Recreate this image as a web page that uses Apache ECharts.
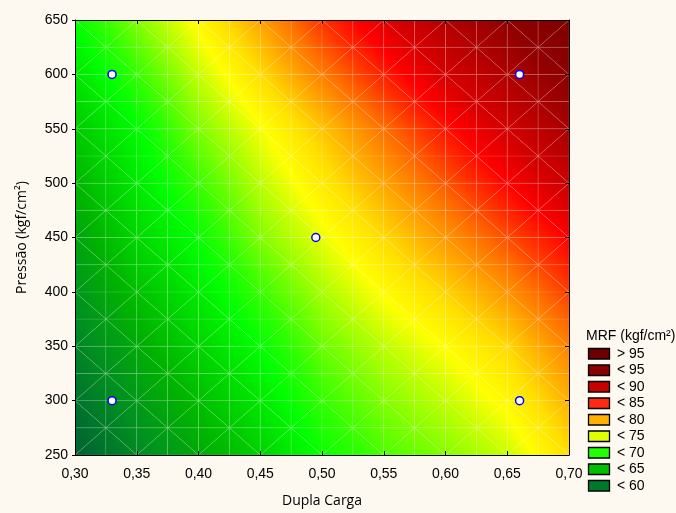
<!DOCTYPE html>
<html>
<head>
<meta charset="utf-8">
<script src="https://cdn.jsdelivr.net/npm/echarts@6/dist/echarts.min.js"></script>
<style>
html,body{margin:0;padding:0;background:#fdf9f0;}
#c{width:676px;height:513px;}
</style>
</head>
<body>
<div id="c"></div>
<script>
// ---- data ----
const xNodes = [0.30, 0.35, 0.40, 0.45, 0.50, 0.55, 0.60, 0.65, 0.70];
const yNodes = [250, 350, 450, 550, 650];
const mrf250 = [56.2, 59.4, 62.1, 65.0, 68.4, 70.5, 72.0, 73.7, 76.8];
const mrf350 = [59.0, 62.2, 65.2, 68.1, 71.3, 73.4, 75.1, 77.1, 80.2];
const mrf450 = [61.6, 65.4, 68.3, 71.9, 74.5, 77.0, 79.4, 81.9, 84.6];
const mrf550 = [64.4, 67.8, 71.8, 74.8, 77.8, 80.8, 83.8, 87.0, 90.6];
const mrf650 = [68.2, 71.9, 75.4, 79.0, 82.8, 86.0, 89.6, 93.1, 96.6];
const mrfGrid = [mrf250, mrf350, mrf450, mrf550, mrf650];

const designX = [0.33, 0.33, 0.495, 0.66, 0.66];
const designY = [300, 600, 450, 300, 600];

const xTicks = [0.30, 0.35, 0.40, 0.45, 0.50, 0.55, 0.60, 0.65, 0.70];
const yTicks = [250, 300, 350, 400, 450, 500, 550, 600, 650];

const legendTitle = 'MRF (kgf/cm²)';
const legendLabels = ['> 95', '< 95', '< 90', '< 85', '< 80', '< 75', '< 70', '< 65', '< 60'];
const legendColors = ['#6c0000', '#8b0000', '#c80000', '#ff2a12', '#ffb000', '#e0ff00', '#22ff00', '#00c000', '#007a2a'];

// continuous colour scale of the surface
const scaleValues = [54, 57, 60, 63, 66, 68, 69.8, 71.5, 73.5, 75, 76.8, 78.8, 80.8, 82.8, 84.5, 86.5, 89.5, 92.5, 96, 100];
const scaleColors = ['#005030', '#006a30', '#009020', '#00b400', '#00e000', '#00ff00', '#30ff00', '#70ff00',
                     '#c0ff00', '#ffff00', '#ffe000', '#ffa800', '#ff7000', '#ff3000', '#ff0000',
                     '#d80000', '#b40000', '#940000', '#800000', '#700000'];

// ---- helpers ----
function hexToRgb(h) { return [parseInt(h.substr(1,2),16), parseInt(h.substr(3,2),16), parseInt(h.substr(5,2),16)]; }
const scaleRgb = scaleColors.map(hexToRgb);
function colorAt(v) {
  if (v <= scaleValues[0]) return scaleColors[0];
  const n = scaleValues.length;
  if (v >= scaleValues[n-1]) return scaleColors[n-1];
  for (let i = 0; i < n - 1; i++) {
    if (v <= scaleValues[i+1]) {
      const t = (v - scaleValues[i]) / (scaleValues[i+1] - scaleValues[i]);
      const a = scaleRgb[i], b = scaleRgb[i+1];
      return 'rgb(' + Math.round(a[0]+(b[0]-a[0])*t) + ',' + Math.round(a[1]+(b[1]-a[1])*t) + ',' + Math.round(a[2]+(b[2]-a[2])*t) + ')';
    }
  }
  return scaleColors[n-1];
}
function triFill(p, v) {
  const x1 = p[1][0]-p[0][0], y1 = p[1][1]-p[0][1];
  const x2 = p[2][0]-p[0][0], y2 = p[2][1]-p[0][1];
  const d1 = v[1]-v[0], d2 = v[2]-v[0];
  const det = x1*y2 - x2*y1;
  const vmin = Math.min(v[0],v[1],v[2]), vmax = Math.max(v[0],v[1],v[2]);
  if (Math.abs(det) < 1e-9 || vmax - vmin < 1e-6) return colorAt((v[0]+v[1]+v[2])/3);
  const a = (d1*y2 - d2*y1)/det;
  const b = (x1*d2 - x2*d1)/det;
  const g2 = a*a + b*b;
  if (g2 < 1e-12) return colorAt(v[0]);
  const k = v.indexOf(vmin);
  const A = p[k];
  const s = (vmax - vmin)/g2;
  const B = [A[0] + a*s, A[1] + b*s];
  const stops = [{offset: 0, color: colorAt(vmin)}];
  for (let i = 0; i < scaleValues.length; i++) {
    const sv = scaleValues[i];
    if (sv > vmin && sv < vmax) stops.push({offset: (sv - vmin)/(vmax - vmin), color: scaleColors[i]});
  }
  stops.push({offset: 1, color: colorAt(vmax)});
  return {type: 'linear', x: A[0], y: A[1], x2: B[0], y2: B[1], global: true, colorStops: stops};
}

const SUBX = 2, SUBY = 4;
function renderCell(params, api) {
  const xi = api.value(2), yi = api.value(3);
  const xa = xNodes[xi], xb = xNodes[xi+1], ya = yNodes[yi], yb = yNodes[yi+1];
  const v00 = mrfGrid[yi][xi], v10 = mrfGrid[yi][xi+1], v01 = mrfGrid[yi+1][xi], v11 = mrfGrid[yi+1][xi+1];
  const val = (u, w) => (1-u)*(1-w)*v00 + u*(1-w)*v10 + (1-u)*w*v01 + u*w*v11;
  const pt = (u, w) => api.coord([xa + (xb-xa)*u, ya + (yb-ya)*w]);
  const children = [];
  for (let a = 0; a < SUBX; a++) {
    for (let b = 0; b < SUBY; b++) {
      const u0 = a/SUBX, u1 = (a+1)/SUBX, w0 = b/SUBY, w1 = (b+1)/SUBY;
      const P00 = pt(u0,w0), P10 = pt(u1,w0), P01 = pt(u0,w1), P11 = pt(u1,w1);
      const V00 = val(u0,w0), V10 = val(u1,w0), V01 = val(u0,w1), V11 = val(u1,w1);
      const fi = xi*SUBX + a, fj = yi*SUBY + b;
      let tris;
      if ((fi + fj) % 2 === 0) {
        tris = [[[P00,P10,P11],[V00,V10,V11]], [[P00,P11,P01],[V00,V11,V01]]];
      } else {
        tris = [[[P00,P10,P01],[V00,V10,V01]], [[P10,P11,P01],[V10,V11,V01]]];
      }
      tris.forEach(t => {
        children.push({
          type: 'polygon',
          shape: {points: t[0]},
          style: {fill: triFill(t[0], t[1]), stroke: 'rgba(255,255,255,0.14)', lineWidth: 0.8}
        });
      });
    }
  }
  return {type: 'group', children: children};
}

const cellData = [];
for (let yi = 0; yi < yNodes.length - 1; yi++) {
  for (let xi = 0; xi < xNodes.length - 1; xi++) {
    cellData.push([xNodes[xi], yNodes[yi], xi, yi]);
  }
}

const fontTick = '"Liberation Sans", Arial, sans-serif';
const fontName = '"Open Sans", "Noto Sans", sans-serif';

const chart = echarts.init(document.getElementById('c'), null, {renderer: 'canvas', width: 676, height: 513});

const legendGraphics = [{
  type: 'text', x: 586, y: 336,
  style: {text: legendTitle, fontSize: 14, fontFamily: fontTick, fill: '#000', verticalAlign: 'middle'}
}];
legendLabels.forEach((lab, i) => {
  legendGraphics.push({
    type: 'rect',
    shape: {x: 588.5, y: 348.5 + i*16.5, width: 21, height: 10.5},
    style: {fill: legendColors[i], stroke: '#000', lineWidth: 1.3}
  });
  legendGraphics.push({
    type: 'text', x: 617, y: 354 + i*16.5,
    style: {text: lab, fontSize: 14, fontFamily: fontTick, fill: '#000', verticalAlign: 'middle'}
  });
});

chart.setOption({
  backgroundColor: '#fdf9f0',
  animation: false,
  grid: {left: 75, top: 20, right: 107, bottom: 55, containLabel: false},
  xAxis: [{
    type: 'value', position: 'bottom', z: 10,
    min: xTicks[0], max: xTicks[xTicks.length-1], interval: 0.05,
    axisLine: {show: true, onZero: false, lineStyle: {color: '#000', width: 1}},
    axisTick: {show: true, inside: true, length: 4, lineStyle: {color: '#000'}},
    axisLabel: {color: '#000', fontSize: 14, fontFamily: fontTick, margin: 12,
                formatter: v => v.toFixed(2).replace('.', ',')},
    splitLine: {show: false},
    name: 'Dupla Carga', nameLocation: 'middle', nameGap: 39,
    nameTextStyle: {color: '#000', fontSize: 14, fontFamily: fontName}
  }, {
    type: 'value', position: 'top', z: 10,
    min: xTicks[0], max: xTicks[xTicks.length-1], interval: 0.05,
    axisLine: {show: true, onZero: false, lineStyle: {color: '#000', width: 1}},
    axisTick: {show: true, inside: true, length: 4, lineStyle: {color: '#000'}},
    axisLabel: {show: false}, splitLine: {show: false}
  }],
  yAxis: [{
    type: 'value', position: 'left', z: 10,
    min: yTicks[0], max: yTicks[yTicks.length-1], interval: 50,
    axisLine: {show: true, onZero: false, lineStyle: {color: '#000', width: 1}},
    axisTick: {show: true, inside: false, length: 3, lineStyle: {color: '#000'}},
    axisLabel: {color: '#000', fontSize: 14, fontFamily: fontTick, margin: 7},
    splitLine: {show: false},
    name: 'Pressão (kgf/cm²)', nameLocation: 'middle', nameGap: 46,
    nameTextStyle: {color: '#000', fontSize: 14, fontFamily: fontName}
  }, {
    type: 'value', position: 'right', z: 10,
    min: yTicks[0], max: yTicks[yTicks.length-1], interval: 50,
    axisLine: {show: true, onZero: false, lineStyle: {color: '#000', width: 1}},
    axisTick: {show: true, inside: true, length: 4, lineStyle: {color: '#000'}},
    axisLabel: {show: false}, splitLine: {show: false}
  }],
  series: [{
    type: 'custom',
    xAxisIndex: 0, yAxisIndex: 0,
    renderItem: renderCell,
    data: cellData,
    encode: {x: 0, y: 1},
    clip: true,
    silent: true,
    z: 1
  }, {
    type: 'scatter',
    xAxisIndex: 0, yAxisIndex: 0,
    data: designX.map((x, i) => [x, designY[i]]),
    symbol: 'circle', symbolSize: 8,
    itemStyle: {color: '#ffffff', borderColor: '#0000ff', borderWidth: 1.5, opacity: 1},
    z: 5
  }],
  graphic: legendGraphics
});
</script>
</body>
</html>
